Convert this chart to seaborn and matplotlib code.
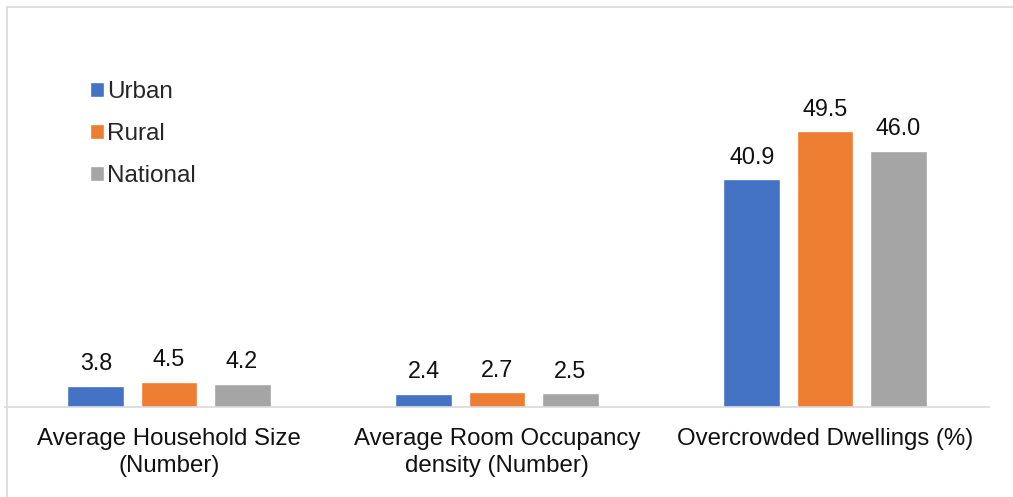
import matplotlib
matplotlib.use("Agg")
import matplotlib.pyplot as plt
import pandas as pd
import seaborn as sns
from matplotlib.patches import Rectangle

sns.set_theme(style="white")
plt.rcParams["font.family"] = ["Liberation Sans", "DejaVu Sans"]

INDICATORS = ["Average Household Size\n(Number)",
              "Average Room Occupancy\ndensity (Number)",
              "Overcrowded Dwellings (%)"]
AREAS = ["Urban", "Rural", "National"]
URBAN = [3.8, 2.4, 40.9]
RURAL = [4.5, 2.7, 49.5]
NATIONAL = [4.2, 2.5, 46.0]
COLORS = ["#4472C4", "#ED7D31", "#A5A5A5"]

rows = []
for area, vals in zip(AREAS, [URBAN, RURAL, NATIONAL]):
    for ind, v in zip(INDICATORS, vals):
        rows.append({"indicator": ind, "area": area, "value": v})
df = pd.DataFrame(rows)

fig = plt.figure(figsize=(10.13, 4.97), dpi=100)
ax = fig.add_axes([5 / 1013, 90 / 497, 984 / 1013, 334.5 / 497])

sns.barplot(data=df, x="indicator", y="value", hue="area", order=INDICATORS,
            hue_order=AREAS, palette=COLORS, width=0.668, gap=0.22,
            saturation=1, ax=ax)

for cont in ax.containers:
    ax.bar_label(cont, fmt="%.1f", padding=7.5, fontsize=16.8, color="#111111")

ax.set_ylim(0, 60)
ax.set_xlim(-0.5, 2.5)
ax.set_xlabel("")
ax.set_ylabel("")
ax.set_yticks([])
ax.tick_params(axis="x", length=0, pad=15, labelsize=17.3, labelcolor="#111111")
for lbl in ax.get_xticklabels():
    lbl.set_linespacing(1.3)
for s in ["top", "left", "right"]:
    ax.spines[s].set_visible(False)
ax.spines["bottom"].set_color("#d9d9d9")
ax.spines["bottom"].set_linewidth(1.2)

ax.legend(loc="upper left", bbox_to_anchor=(80 / 1013, 1 - 71 / 497),
          bbox_transform=fig.transFigure, frameon=False, fontsize=17.5,
          handlelength=0.58, handleheight=0.58, handletextpad=0.15,
          labelspacing=0.83, borderaxespad=0)

# outer chart frame
fig.patches.append(Rectangle((7 / 1013, -0.01), 1.02, 1 - 7 / 497 + 0.01,
                             transform=fig.transFigure, fill=False,
                             edgecolor="#d9d9d9", linewidth=1.2))

fig.savefig("out.png", dpi=100)
